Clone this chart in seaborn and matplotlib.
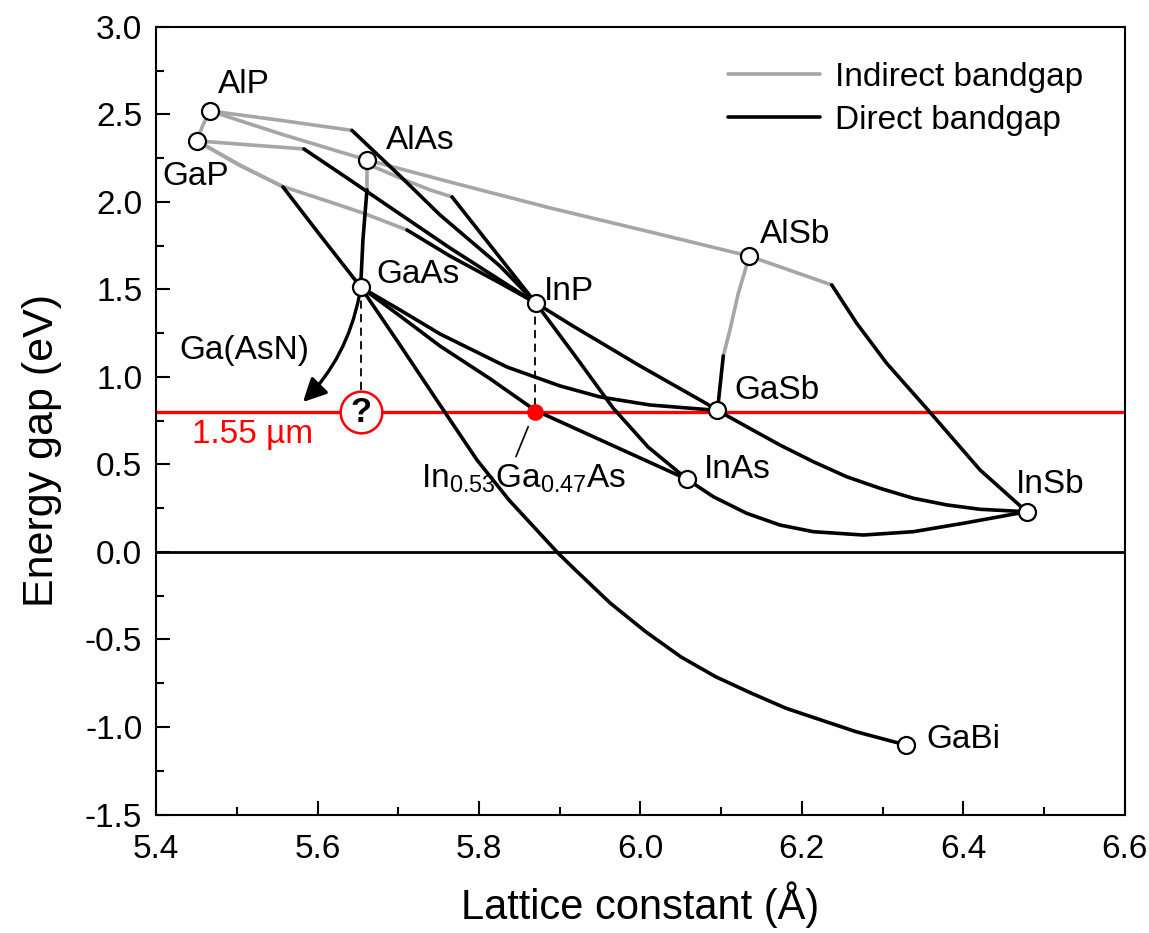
import matplotlib
matplotlib.use("Agg")
import matplotlib.pyplot as plt
from matplotlib.ticker import MultipleLocator, FormatStrFormatter
import pandas as pd
import seaborn as sns

# ---------------------------------------------------------------------------
# Binary compounds: lattice constant (Å) and band gap (eV)
# ---------------------------------------------------------------------------
BINARIES = ["AlP", "GaP", "AlAs", "GaAs", "InP", "AlSb", "GaSb", "InAs", "InSb", "GaBi"]
LATTICE = [5.4667, 5.4506, 5.6612, 5.6534, 5.8703, 6.1346, 6.0955, 6.0581, 6.4787, 6.3291]
ENERGY_GAP = [2.52, 2.349, 2.24, 1.514, 1.423, 1.691, 0.809, 0.415, 0.23, -1.103]

# ---------------------------------------------------------------------------
# Ternary alloy curves.  *_K = number of leading points on the indirect
# branch (the last of them is where the direct branch starts).
# ---------------------------------------------------------------------------
ALP_GAP_X = [5.4667, 5.458, 5.4506]
ALP_GAP_Y = [2.52, 2.44, 2.349]
ALP_GAP_K = 3

ALP_ALAS_X = [5.4667, 5.557, 5.6612]
ALP_ALAS_Y = [2.52, 2.385, 2.24]
ALP_ALAS_K = 3

ALP_INP_X = [5.4667, 5.555, 5.6426, 5.7021, 5.7517, 5.826, 5.8703]
ALP_INP_Y = [2.52, 2.466, 2.409, 2.149, 1.926, 1.634, 1.423]
ALP_INP_K = 3

GAP_INP_X = [5.4506, 5.5162, 5.5831, 5.6401, 5.7021, 5.7641, 5.826, 5.8703]
GAP_INP_Y = [2.349, 2.326, 2.303, 2.126, 1.931, 1.737, 1.554, 1.423]
GAP_INP_K = 3

GAP_INP_L_X = [5.4506, 5.5038, 5.5571, 5.6154, 5.6562, 5.7108, 5.7641, 5.826, 5.8703]
GAP_INP_L_Y = [2.349, 2.208, 2.088, 2.0, 1.937, 1.84, 1.691, 1.537, 1.423]
GAP_INP_L_K = 6

GAP_GAAS_X = [5.4506, 5.5038, 5.5571, 5.603, 5.6534]
GAP_GAAS_Y = [2.349, 2.211, 2.086, 1.811, 1.514]
GAP_GAAS_K = 3

ALAS_GAAS_X = [5.6612, 5.6612, 5.6562, 5.6534]
ALAS_GAAS_Y = [2.24, 2.069, 1.783, 1.514]
ALAS_GAAS_K = 2

ALAS_ALSB_X = [5.6612, 5.7641, 5.888, 6.0119, 6.1346]
ALAS_ALSB_Y = [2.24, 2.114, 1.966, 1.829, 1.691]
ALAS_ALSB_K = 5

ALAS_INAS_X = [5.6612, 5.6674, 5.7021, 5.7393, 5.7666, 5.8703, 5.9165, 5.9661, 6.0095, 6.0581]
ALAS_INAS_Y = [2.24, 2.206, 2.137, 2.069, 2.029, 1.423, 1.137, 0.823, 0.6, 0.415]
ALAS_INAS_K = 5

ALSB_INSB_X = [6.1346, 6.2371, 6.268, 6.3052, 6.3589, 6.4208, 6.4787]
ALSB_INSB_Y = [1.691, 1.526, 1.307, 1.078, 0.798, 0.469, 0.23]
ALSB_INSB_K = 2

ALSB_GASB_X = [6.1346, 6.1317, 6.1213, 6.111, 6.1027, 6.0955]
ALSB_GASB_Y = [1.691, 1.64, 1.478, 1.269, 1.12, 0.809]
ALSB_GASB_K = 5

INP_GASB_X = [5.8703, 5.9165, 5.9996, 6.0826, 6.0955]
INP_GASB_Y = [1.423, 1.291, 1.063, 0.846, 0.809]
INP_GASB_K = 0

GAAS_GASB_X = [5.6534, 5.7021, 5.7517, 5.8347, 5.9004, 5.95, 6.0119, 6.0955]
GAAS_GASB_Y = [1.514, 1.383, 1.246, 1.057, 0.949, 0.886, 0.84, 0.809]
GAAS_GASB_K = 0

GAAS_INAS_X = [5.6534, 5.7021, 5.7517, 5.8137, 5.8694, 5.9587, 6.0581]
GAAS_INAS_Y = [1.514, 1.349, 1.177, 0.99, 0.81, 0.623, 0.415]
GAAS_INAS_K = 0

GAAS_GABI_X = [5.6534, 5.7021, 5.7517, 5.7975, 5.8372, 5.8979, 5.9195, 5.9624, 6.0064,
               6.0504, 6.0934, 6.1371, 6.1804, 6.2238, 6.2673, 6.3291]
GAAS_GABI_Y = [1.514, 1.183, 0.84, 0.526, 0.297, -0.006, -0.103, -0.291, -0.455,
               -0.6, -0.713, -0.806, -0.893, -0.96, -1.027, -1.103]
GAAS_GABI_K = 0

GASB_INSB_X = [6.0955, 6.1317, 6.173, 6.2142, 6.2556, 6.2969, 6.3382, 6.3796, 6.4208, 6.4787]
GASB_INSB_Y = [0.809, 0.716, 0.611, 0.516, 0.43, 0.364, 0.307, 0.269, 0.244, 0.23]
GASB_INSB_K = 0

INAS_INSB_X = [6.0581, 6.0903, 6.1317, 6.173, 6.2142, 6.2762, 6.3382, 6.4001, 6.4787]
INAS_INSB_Y = [0.415, 0.316, 0.221, 0.154, 0.116, 0.097, 0.116, 0.164, 0.23]
INAS_INSB_K = 0

# Telecom wavelength line and the lattice-matched InGaAs point
TELECOM_GAP = 0.80
INGAAS_LATTICE = 5.8694
DILUTE_N_LATTICE = 5.6534

# Axis ticks
X_TICKS = [5.4, 5.6, 5.8, 6.0, 6.2, 6.4, 6.6]
Y_TICKS = [-1.5, -1.0, -0.5, 0.0, 0.5, 1.0, 1.5, 2.0, 2.5, 3.0]

ALLOYS = [
    ("AlP-GaP", ALP_GAP_X, ALP_GAP_Y, ALP_GAP_K),
    ("AlP-AlAs", ALP_ALAS_X, ALP_ALAS_Y, ALP_ALAS_K),
    ("AlP-InP", ALP_INP_X, ALP_INP_Y, ALP_INP_K),
    ("GaP-InP", GAP_INP_X, GAP_INP_Y, GAP_INP_K),
    ("GaP-InP-L", GAP_INP_L_X, GAP_INP_L_Y, GAP_INP_L_K),
    ("GaP-GaAs", GAP_GAAS_X, GAP_GAAS_Y, GAP_GAAS_K),
    ("AlAs-GaAs", ALAS_GAAS_X, ALAS_GAAS_Y, ALAS_GAAS_K),
    ("AlAs-AlSb", ALAS_ALSB_X, ALAS_ALSB_Y, ALAS_ALSB_K),
    ("AlAs-InAs", ALAS_INAS_X, ALAS_INAS_Y, ALAS_INAS_K),
    ("AlSb-InSb", ALSB_INSB_X, ALSB_INSB_Y, ALSB_INSB_K),
    ("AlSb-GaSb", ALSB_GASB_X, ALSB_GASB_Y, ALSB_GASB_K),
    ("InP-GaSb", INP_GASB_X, INP_GASB_Y, INP_GASB_K),
    ("GaAs-GaSb", GAAS_GASB_X, GAAS_GASB_Y, GAAS_GASB_K),
    ("GaAs-InAs", GAAS_INAS_X, GAAS_INAS_Y, GAAS_INAS_K),
    ("GaAs-GaBi", GAAS_GABI_X, GAAS_GABI_Y, GAAS_GABI_K),
    ("GaSb-InSb", GASB_INSB_X, GASB_INSB_Y, GASB_INSB_K),
    ("InAs-InSb", INAS_INSB_X, INAS_INSB_Y, INAS_INSB_K),
]

INDIRECT = "Indirect bandgap"
DIRECT = "Direct bandgap"

rows = []
for name, xs, ys, k in ALLOYS:
    n = len(xs)
    if k > 0:
        for a, e in zip(xs[:k], ys[:k]):
            rows.append((name + "-X", INDIRECT, a, e))
    if k < n:
        start = max(k - 1, 0)
        for a, e in zip(xs[start:], ys[start:]):
            rows.append((name + "-G", DIRECT, a, e))
curves = pd.DataFrame(rows, columns=["segment", "gap", "lattice", "energy"])
binaries = pd.DataFrame({"name": BINARIES, "lattice": LATTICE, "energy": ENERGY_GAP})

# ---------------------------------------------------------------------------
# Styling
# ---------------------------------------------------------------------------
sns.set_theme(style="ticks")
plt.rcParams["font.family"] = ["Liberation Sans", "DejaVu Sans"]
plt.rcParams["mathtext.fontset"] = "custom"
plt.rcParams["mathtext.rm"] = "Liberation Sans"
plt.rcParams["mathtext.it"] = "Liberation Sans:italic"
plt.rcParams["mathtext.default"] = "regular"
plt.rcParams["axes.unicode_minus"] = False
plt.rcParams["text.color"] = "black"
plt.rcParams["axes.labelcolor"] = "black"
plt.rcParams["xtick.color"] = "black"
plt.rcParams["ytick.color"] = "black"

GREY = "#a6a6a6"
RED = "#ff0000"
FS = 24
LW = 2.6

fig = plt.figure(figsize=(11.49, 9.33), dpi=100)
ax = fig.add_axes([0.1359, 0.1270, 0.8429, 0.8441])

# reference lines
ax.axhline(0.0, color="black", lw=2.0, zorder=1)
ax.axhline(TELECOM_GAP, color=RED, lw=2.4, zorder=2)

# alloy curves
sns.lineplot(
    data=curves, x="lattice", y="energy", hue="gap", hue_order=[INDIRECT, DIRECT],
    palette={INDIRECT: GREY, DIRECT: "black"}, units="segment", estimator=None,
    sort=False, linewidth=LW, ax=ax, zorder=3,
)

# dashed drops to the 1.55 µm line
gaas_gap = ENERGY_GAP[BINARIES.index("GaAs")]
inp_gap = ENERGY_GAP[BINARIES.index("InP")]
ax.plot([DILUTE_N_LATTICE, DILUTE_N_LATTICE], [gaas_gap, TELECOM_GAP], color="black",
        lw=1.3, ls=(0, (4.5, 3)), zorder=2.5)
ax.plot([INGAAS_LATTICE, INGAAS_LATTICE], [inp_gap, TELECOM_GAP], color="black",
        lw=1.3, ls=(0, (4.5, 3)), zorder=2.5)

# binary compound markers
sns.scatterplot(data=binaries, x="lattice", y="energy", s=150, color="white",
                edgecolor="black", linewidth=1.6, ax=ax, zorder=6, legend=False)

# lattice-matched InGaAs point and the open question for dilute nitrides
ax.plot([INGAAS_LATTICE], [TELECOM_GAP], "o", color=RED, ms=11, zorder=6)
ax.plot([DILUTE_N_LATTICE], [TELECOM_GAP], "o", mfc="white", mec=RED, mew=1.8,
        ms=30, zorder=6)
ax.text(DILUTE_N_LATTICE, TELECOM_GAP - 0.005, "?", ha="center", va="center",
        fontsize=25, fontweight="bold", zorder=7)

# Ga(AsN) arrow
ax.annotate("", xy=(5.5819, 0.857), xytext=(5.6515, 1.46),
            arrowprops=dict(arrowstyle="-|>,head_length=0.7,head_width=0.35",
                            connectionstyle="arc3,rad=-0.15", lw=2.4,
                            color="black", mutation_scale=20, shrinkA=0, shrinkB=0),
            zorder=4)

# compound labels
LABEL_POS = {
    "AlP": (5.509, 2.669), "GaP": (5.4496, 2.146), "AlAs": (5.7267, 2.349),
    "GaAs": (5.7244, 1.583), "InP": (5.9115, 1.486), "AlSb": (6.1915, 1.817),
    "GaSb": (6.1693, 0.92), "InAs": (6.1197, 0.474), "InSb": (6.5075, 0.383),
    "GaBi": (6.3996, -1.074),
}
for name in BINARIES:
    lx, ly = LABEL_POS[name]
    ax.text(lx, ly, name, ha="center", va="center", fontsize=FS, zorder=7)

ax.text(5.509, 1.154, "Ga(AsN)", ha="center", va="center", fontsize=FS)
ax.text(5.52, 0.669, "1.55 µm", ha="center", va="center", fontsize=FS, color=RED)
ax.text(5.8556, 0.366, r"In$_{0.53}$Ga$_{0.47}$As", ha="center", va="baseline", fontsize=FS)
ax.plot([5.8610, 5.8458], [0.716, 0.545], color="black", lw=1.2)

# axes
ax.set_xlim(5.4, 6.6)
ax.set_ylim(-1.5, 3.0)
ax.set_xticks(X_TICKS)
ax.set_yticks(Y_TICKS)
ax.xaxis.set_minor_locator(MultipleLocator(0.1))
ax.yaxis.set_minor_locator(MultipleLocator(0.25))
ax.xaxis.set_major_formatter(FormatStrFormatter("%.1f"))
ax.yaxis.set_major_formatter(FormatStrFormatter("%.1f"))
ax.tick_params(which="both", direction="in", width=1.5, labelsize=FS, colors="black")
ax.tick_params(which="major", length=10)
ax.tick_params(which="minor", length=6)
ax.tick_params(axis="x", pad=14)
ax.tick_params(axis="y", pad=10)
for sp in ax.spines.values():
    sp.set_visible(True)
    sp.set_linewidth(1.5)
    sp.set_color("black")
ax.set_xlabel("Lattice constant (Å)", fontsize=30, labelpad=12)
ax.set_ylabel("Energy gap (eV)", fontsize=31)
ax.yaxis.set_label_coords(-0.097, 0.462)

handles, labels = ax.get_legend_handles_labels()
for h in handles:
    h.set_linewidth(LW)
ax.legend(handles, labels, loc="upper left", bbox_to_anchor=(0.59, 0.9555),
          frameon=False, fontsize=FS, handlelength=2.76, handletextpad=0.45,
          labelspacing=0.36, borderpad=0, borderaxespad=0)

fig.savefig("out.png", dpi=100)
